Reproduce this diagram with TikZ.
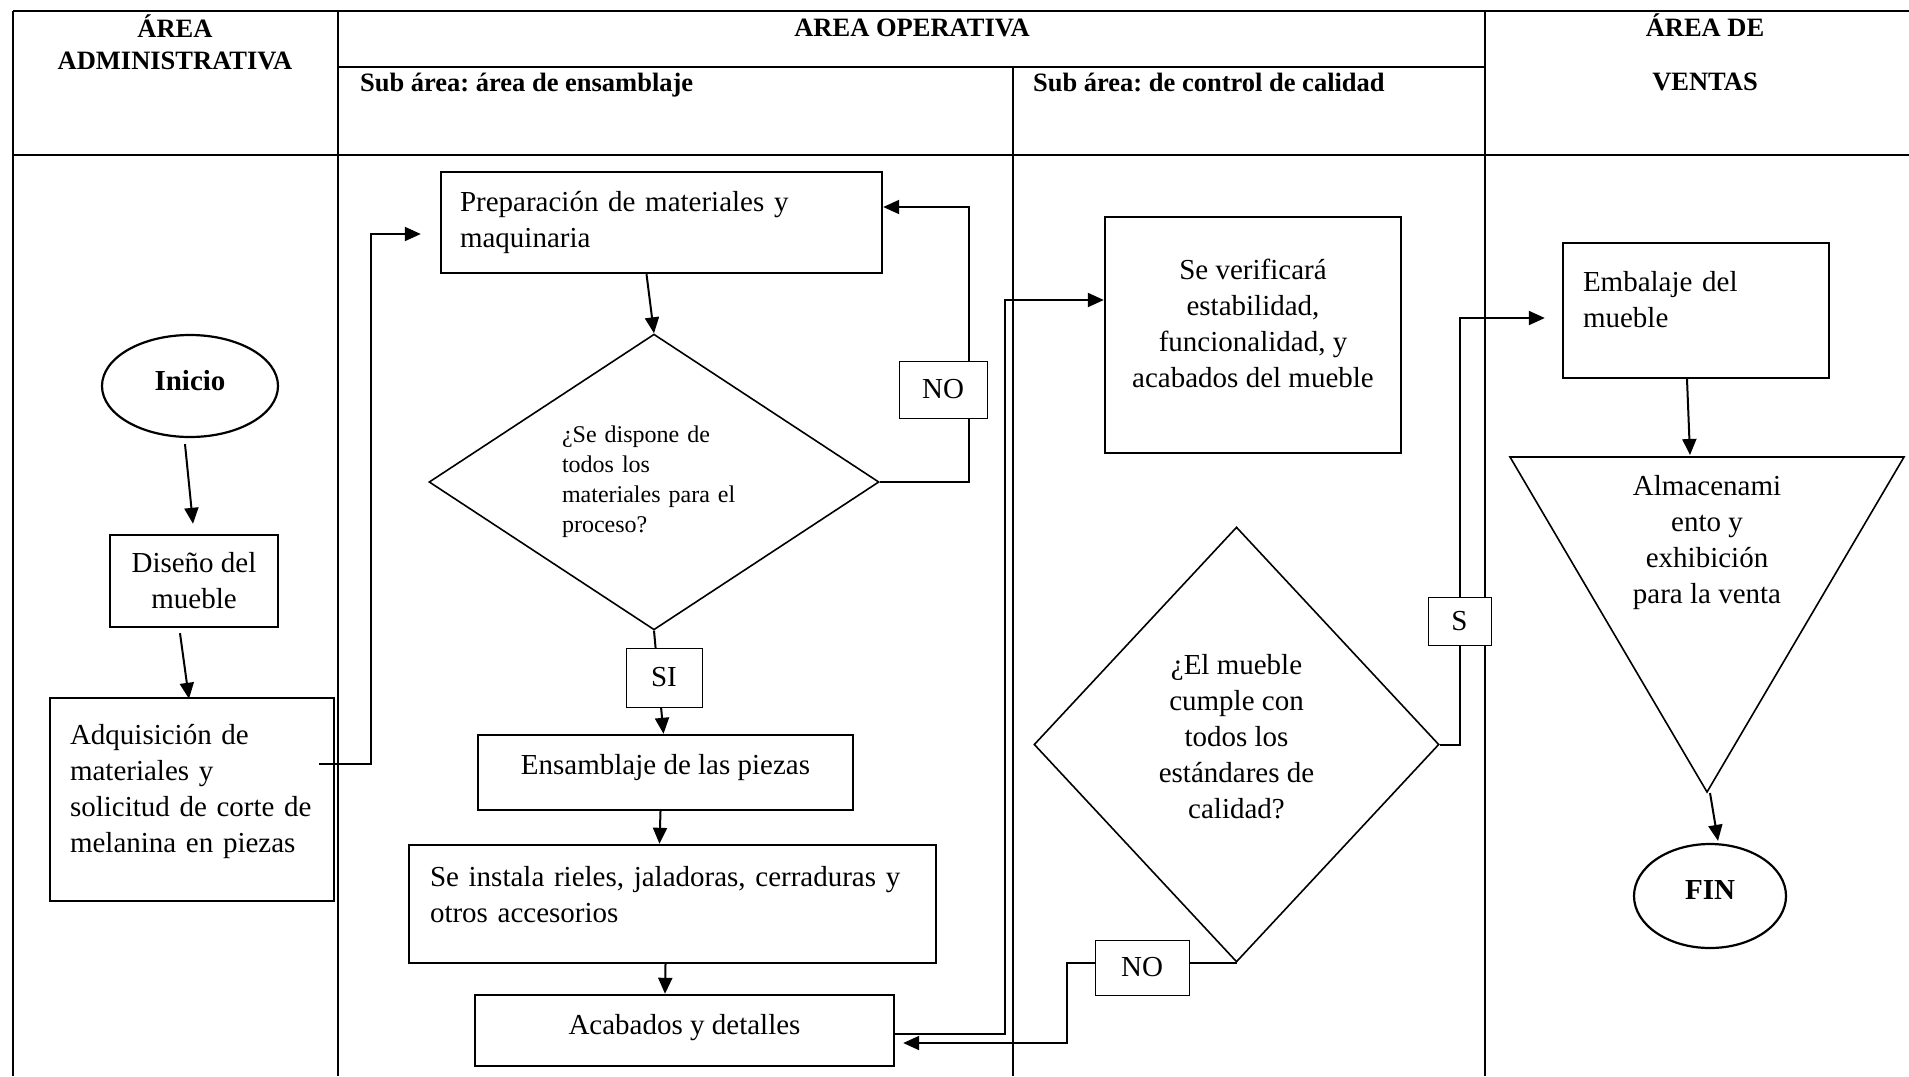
\documentclass[tikz,border=0pt]{standalone}
\usepackage{fontspec}
\setmainfont{Liberation Serif}
\usetikzlibrary{shapes.geometric,arrows.meta,calc}
\frenchspacing
\begin{document}
\begin{tikzpicture}[x=0.5pt,y=-0.5pt,
  body/.style={font=\fontsize{14.5}{18}\selectfont},
  hdr/.style={font=\fontsize{13.25}{16}\selectfont\bfseries},
  box/.style={draw,line width=1.2pt,fill=white,inner sep=0pt,body},
  lbox/.style={draw,line width=1.2pt,fill=white,body,align=left},
  lbl/.style={draw,line width=0.5pt,fill=white,inner sep=0pt,body},
  dia/.style={draw,diamond,line width=0.8pt,fill=white,inner sep=0pt,body},
  term/.style={draw,ellipse,line width=1.1pt,fill=white,inner sep=0pt,font=\fontsize{14.5}{18}\selectfont\bfseries},
  arr/.style={line width=1pt,-{Triangle[length=8pt,width=7pt]}},
  tline/.style={line width=0.8pt},
  tthick/.style={line width=1.4pt}
]
\useasboundingbox (0,0) rectangle (1909,1076);

% table
\draw[tthick] (13,11) -- (1909,11);
\draw[tthick] (13,155) -- (1909,155);
\draw[tline] (338,67) -- (1485,67);
\draw[tline] (13,11) -- (13,1076);
\draw[tline] (338,11) -- (338,1076);
\draw[tline] (1013,67) -- (1013,1076);
\draw[tline] (1485,11) -- (1485,1076);

% headers
\node[hdr,align=center] (hadm) at (175,42) {ÁREA\\ADMINISTRATIVA};
\node[hdr,anchor=base] (hop) at (912,36) {AREA OPERATIVA};
\node[hdr,align=center] (hven) at (1705,52) {ÁREA DE\\[11pt]VENTAS};
\node[hdr,anchor=base west] (hens) at (353,91) {Sub área: área de ensamblaje};
\node[hdr,anchor=base west] (hcal) at (1026,91) {Sub área: de control de calidad};

% nodes
\node[term,minimum width=88pt,minimum height=51pt,text depth=6pt] (inicio) at (190,386) {Inicio};
\node[box,minimum width=84pt,minimum height=46pt,align=center] (diseno) at (194,581) {Diseño del\\mueble};
\node[lbox,minimum height=101.5pt,inner xsep=10pt,inner ysep=0pt,text width=122pt,text depth=65.5pt] (adq) at (192,799.5) {Adquisición de\\materiales y\\solicitud de corte de\\melanina en piezas};
\node[lbox,minimum height=50.5pt,inner xsep=9.5pt,inner ysep=0pt,text width=201.5pt] (prep) at (661.5,222.5) {Preparación de materiales y\\maquinaria};
\node[dia,minimum width=225pt,minimum height=145pt,align=left,text width=92pt,font=\fontsize{12}{15}\selectfont] (d1) at (654,482) {¿Se dispone de\\todos los\\materiales para el\\proceso?};
\node[box,minimum width=187.5pt,minimum height=37.5pt,text depth=8pt] (ens) at (665.5,772.5) {Ensamblaje de las piezas};
\node[lbox,minimum height=59pt,inner xsep=10.5pt,inner ysep=0pt,text width=242.5pt,text depth=28pt] (inst) at (672.5,904) {Se instala rieles, jaladoras, cerraduras y\\otros accesorios};
\node[box,minimum width=209.5pt,minimum height=35.5pt,text depth=6.5pt] (acab) at (684.5,1030.5) {Acabados y detalles};
\node[box,minimum width=148pt,minimum height=118pt,align=center,text depth=12pt] (verif) at (1253,335) {Se verificará\\estabilidad,\\funcionalidad, y\\acabados del mueble};
\node[dia,minimum width=202.5pt,minimum height=217.5pt,align=center,text depth=8.5pt] (d2) at (1236.5,744.5) {¿El mueble\\cumple con\\todos los\\estándares de\\calidad?};
\node[lbox,minimum height=67.5pt,inner xsep=10pt,inner ysep=0pt,text width=113pt,text depth=29pt] (emb) at (1696,310.5) {Embalaje del\\mueble};

% triangle
\coordinate (trl) at (1510,457);
\coordinate (trr) at (1904,457);
\coordinate (trb) at (1707,792);
\coordinate (trt) at (1690,457);
\draw[line width=0.8pt] (trl) -- (trr) -- (trb) -- cycle;
\node[body,align=center] (alm) at (1707,543) {Almacenami\\ento y\\exhibición\\para la venta};
\node[term,minimum width=76pt,minimum height=52pt,text depth=6pt] (fin) at (1710,896) {FIN};

% connectors
\draw[arr] ([shift={(-5,6)}]inicio.south) -- ([shift={(-1,-10)}]diseno.north);
\draw[arr] ([shift={(-14,5)}]diseno.south) -- ([shift={(-3,2)}]adq.north);
\draw[arr] ([shift={(-16,-36)}]adq.east) -- ++(52,0) |- ([shift={(-19,11.5)}]prep.west);
\draw[arr] ([shift={(-15,0)}]prep.south) -- (d1.north);
\draw[arr] (d1.east) -- ++(89,0) |- ([shift={(0,-15.5)}]prep.east);
\draw[arr] (d1.south) -- ([shift={(-2,0)}]ens.north);
\draw[arr] ([shift={(-5,0)}]ens.south) -- ([shift={(-13,0)}]inst.north);
\draw[arr] ([shift={(-7,0)}]inst.south) -- ([shift={(-19.5,0)}]acab.north);
\draw[arr] ([shift={(0,3.5)}]acab.east) -- ++(110,0) |- ([shift={(0,-35)}]verif.west);
\draw[arr] (d2.south) -- ++(-170,0) |- ([shift={(8,12.5)}]acab.east);
\draw[arr] (d2.east) -- ++(20,0) |- ([shift={(-17,7.5)}]emb.west);
\draw[arr] ([shift={(-9,0)}]emb.south) -- ([shift={(0,-2)}]trt);
\draw[arr] ([shift={(3,1)}]trb) -- ([shift={(8,-2)}]fin.north);

% labels
\node[lbl,minimum width=44pt,minimum height=28.5pt] (no1) at (943,389.5) {NO};
\node[lbl,minimum width=38pt,minimum height=29.5pt] (si) at (664,677.5) {SI};
\node[lbl,minimum width=31.5pt,minimum height=24pt,text depth=-4pt] (slbl) at (1459.5,621) {S};
\node[lbl,minimum width=47pt,minimum height=27.5pt] (no2) at (1142,967.5) {NO};
\end{tikzpicture}
\end{document}
